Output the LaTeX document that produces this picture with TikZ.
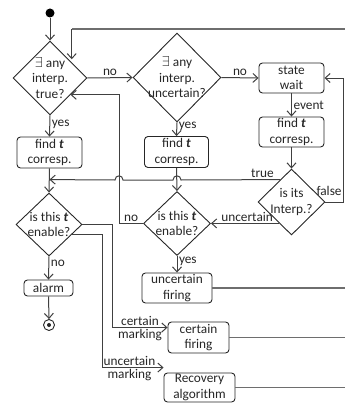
\documentclass[tikz,border=0pt]{standalone}
\usepackage{fontspec}
\setmainfont{Carlito}
\usepackage{tikz}
\usetikzlibrary{calc,arrows.meta,shapes.geometric}
\definecolor{ink}{HTML}{262626}
\definecolor{wire}{HTML}{404040}
\definecolor{outwire}{HTML}{6E6E6E}
\tikzset{
  every node/.style={font=\fontsize{13.3}{15.5}\selectfont, text=ink},
  box/.style={draw=ink, line width=0.9pt, rounded corners=3.5pt, align=center, inner sep=1pt},
  dia/.style={draw=ink, line width=0.9pt, diamond, align=center, inner sep=-9pt},
  wline/.style={draw=wire, line width=1pt},
  oline/.style={draw=outwire, line width=1.7pt},
  arr/.style={wline, -{Straight Barb[length=5pt,width=9pt]}},
  lbl/.style={inner sep=1.5pt}
}
\begin{document}
\begin{tikzpicture}[x=1pt,y=-1pt]
  \useasboundingbox (0,0) rectangle (345,404);
  \coordinate (edge) at (345,0);
  \coordinate (topR) at (345,29);

  % states and decisions
  \node[circle, fill=black, inner sep=0pt, minimum size=9pt] (start) at (50,13) {};
  \node[dia, minimum width=74pt, minimum height=74pt] (anyTrue) at (50,78) {$\exists$ any\\interp.\\true?};
  \node[dia, minimum width=88pt, minimum height=89pt] (anyUnc) at (177,77.5) {$\exists$ any\\interp.\\uncertain?};
  \node[box, minimum width=65pt, minimum height=30pt] (wait) at (291.5,78) {state\\wait};
  \node[box, minimum width=65pt, minimum height=30pt] (findC) at (291.5,132) {find \textbf{\textit{t}}\\corresp.};
  \node[dia, minimum width=67pt, minimum height=66pt] (isIts) at (291.5,202) {is its\\Interp.?};
  \node[box, minimum width=65pt, minimum height=31pt] (findA) at (49.5,152.5) {find \textbf{\textit{t}}\\corresp.};
  \node[box, minimum width=64pt, minimum height=31pt] (findB) at (176.5,152) {find \textbf{\textit{t}}\\corresp.};
  \node[dia, minimum width=66pt, minimum height=63pt] (enA) at (49,224.5) {is this \textbf{\textit{t}}\\enable?};
  \node[dia, minimum width=67pt, minimum height=64pt] (enB) at (177,223.5) {is this \textbf{\textit{t}}\\enable?};
  \node[box, minimum width=70pt, minimum height=30pt] (uFire) at (177,288) {uncertain\\firing};
  \node[box, minimum width=49pt, minimum height=16pt] (alarm) at (48.5,288) {alarm};
  \node[circle, draw=ink, line width=0.9pt, inner sep=0pt, minimum size=11pt] (stop) at (49,325) {};
  \node[circle, fill=ink, inner sep=0pt, minimum size=4pt] at (stop) {};
  \node[box, minimum width=61pt, minimum height=31pt] (cFire) at (198.5,337.5) {certain\\firing};
  \node[box, minimum width=71pt, minimum height=29pt] (recov) at (199.5,387.5) {Recovery\\algorithm};

  % helper points on the diamond edges
  \coordinate (loopIn) at ([xshift=3pt]anyTrue.north east);
  \coordinate (trueIn) at ($(anyTrue.east)!0.45!(anyTrue.south)$);
  \coordinate (trueOut) at ($(isIts.north)!0.33!(isIts.west)$);
  \coordinate (uncOut) at ($(isIts.west)!0.64!(isIts.south)$);
  \coordinate (enLow) at ($(enA.east)!0.32!(enA.south)$);

  % connectors
  \draw[arr] (start) -- (anyTrue.north);
  \draw[oline] (topR) -- (topR -| loopIn);
  \draw[arr] (topR -| loopIn) -- (loopIn);
  \draw[arr] (anyTrue.east) -- node[lbl, above] {no} (anyUnc.west);
  \draw[arr] (anyUnc.east) -- node[lbl, above] {no} (wait.west);
  \draw[arr] (wait.south) -- node[lbl, right] {event} (findC.north);
  \draw[arr] (findC.south) -- (isIts.north);
  \draw[arr] (isIts.east) -- node[lbl, above=4.5pt, pos=0.2] {false} ++(18,0) |- (wait.east);
  \draw[arr] (anyTrue.south) -- node[lbl, right, pos=0.4] {yes} (findA.north);
  \draw[arr] (anyUnc.south) -- node[lbl, right, pos=0.3] {yes} (findB.north);
  \draw[arr] (findA.south) -- (enA.north);
  \draw[arr] (findB.south) -- (enB.north);
  \draw[arr] (trueOut) -- node[lbl, above, pos=0.18] {true} (181,180)
    .. controls (181,174.5) and (173,174.5) .. (173,180) -- (123,180)
    .. controls (123,174.5) and (115,174.5) .. (115,180) -- (findA.south |- trueOut);
  \draw[arr] (uncOut) -- node[lbl, above, pos=0.47] {uncertain} (uncOut -| enB.east);
  \draw[arr] (enB.west) -- node[lbl, above] {no} ++(-24,0) |- (trueIn);
  \draw[arr] (enB.south) -- node[lbl, right, pos=0.3] {yes} (uFire.north);
  \draw[arr] (enA.south) -- node[lbl, right, pos=0.3] {no} (alarm.north);
  \draw[arr] (alarm.south) -- (stop.north);
  \draw[arr] (enA.east) -- ++(30,0) |- node[lbl, above, pos=0.75] {certain}
    node[lbl, below, pos=0.75] {marking} ([yshift=10pt]cFire.west);
  \draw[arr] (enLow) -- ++(31,0) |- node[lbl, above, pos=0.72] {uncertain}
    node[lbl, below, pos=0.72] {marking} ([yshift=5pt]recov.north west);
  \draw[oline] (uFire.east) -- (uFire.east -| edge);
  \draw[oline] (cFire.east) -- (cFire.east -| edge);
  \draw[oline] (recov.east) -- (recov.east -| edge);
\end{tikzpicture}
\end{document}
